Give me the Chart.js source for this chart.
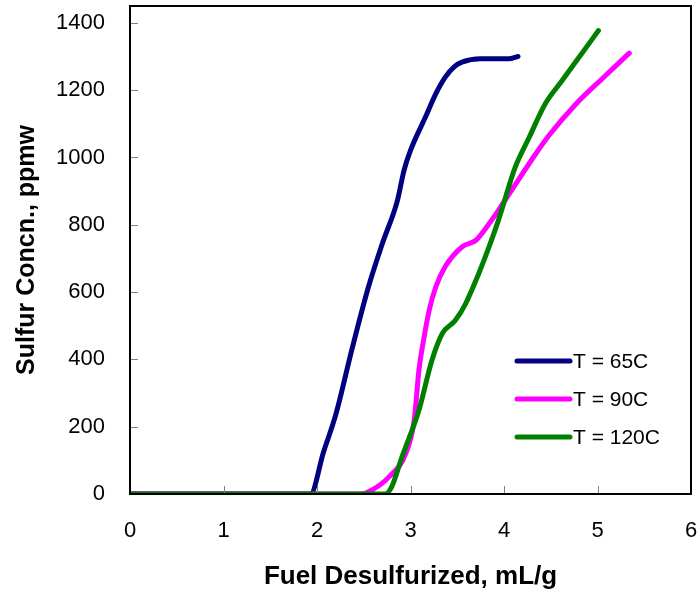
<!DOCTYPE html>
<html>
<head>
<meta charset="utf-8">
<script src="https://cdn.jsdelivr.net/npm/chart.js@4.4.1/dist/chart.umd.min.js"></script>
<style>
  body { margin: 0; background: #fff; }
  canvas { display: block; }
</style>
</head>
<body>
<canvas id="lineChart" width="700" height="592"></canvas>
<script>
// Series data
const labels = ['T = 65C', 'T = 90C', 'T = 120C'];

const x65 = [0, 1.93, 2.07, 2.2, 2.38, 2.55, 2.7, 2.86, 2.93, 3.0, 3.16, 3.27, 3.37, 3.47, 3.55, 3.75, 4.05, 4.15];
const y65 = [0, 0, 125, 235, 437, 615, 745, 872, 961, 1021, 1120, 1189, 1238, 1270, 1283, 1293, 1293, 1300];

const x90 = [0, 2.48, 2.59, 2.77, 2.95, 3.04, 3.09, 3.14, 3.2, 3.27, 3.37, 3.55, 3.7, 3.84, 3.94, 4.34, 4.48, 4.77, 5.05, 5.34];
const y90 = [0, 0, 12, 51, 121, 220, 368, 457, 546, 615, 675, 734, 754, 803, 843, 1011, 1065, 1159, 1234, 1310];

const x120 = [0, 2.73, 2.8, 2.91, 3.09, 3.23, 3.34, 3.48, 3.59, 3.73, 3.84, 3.94, 4.12, 4.27, 4.44, 4.62, 4.84, 5.01];
const y120 = [0, 0, 22, 111, 249, 398, 477, 516, 566, 655, 734, 813, 971, 1060, 1159, 1228, 1312, 1377];

const xTicks = [0, 1, 2, 3, 4, 5, 6];
const yTicks = [0, 200, 400, 600, 800, 1000, 1200, 1400];

const colors = ['#000080', '#FF00FF', '#008000'];
const font = "'Liberation Sans', Arial, sans-serif";

function toPoints(xs, ys) {
  return xs.map((x, i) => ({ x: x, y: ys[i] }));
}

// Frame, inner tick marks and the legend inside the plot
const framePlugin = {
  id: 'frame',
  afterDraw(chart) {
    const ctx = chart.ctx;
    const a = chart.chartArea;
    const xs = chart.scales.x;
    const ys = chart.scales.y;
    ctx.save();
    ctx.strokeStyle = '#808080';
    ctx.lineWidth = 1;
    xTicks.forEach((t) => {
      const px = Math.round(xs.getPixelForValue(t)) + 0.5;
      ctx.beginPath();
      ctx.moveTo(px, a.bottom);
      ctx.lineTo(px, a.bottom - 8);
      ctx.stroke();
    });
    yTicks.forEach((t) => {
      const py = Math.round(ys.getPixelForValue(t)) + 0.5;
      ctx.beginPath();
      ctx.moveTo(a.left, py);
      ctx.lineTo(a.left + 8, py);
      ctx.stroke();
    });
    ctx.strokeStyle = '#000';
    ctx.lineWidth = 2;
    ctx.strokeRect(a.left, a.top, a.right - a.left, a.bottom - a.top);

    // legend
    const lx = a.right - 174;
    let ly = a.top + 355;
    ctx.font = '21px ' + font;
    ctx.textBaseline = 'middle';
    ctx.textAlign = 'left';
    chart.data.datasets.forEach((ds) => {
      ctx.strokeStyle = ds.borderColor;
      ctx.lineWidth = 5;
      ctx.lineCap = 'round';
      ctx.beginPath();
      ctx.moveTo(lx, ly);
      ctx.lineTo(lx + 53, ly);
      ctx.stroke();
      ctx.fillStyle = '#000';
      ctx.fillText(ds.label, lx + 56, ly + 1);
      ly += 38;
    });
    ctx.restore();
  }
};

const ctx = document.getElementById('lineChart').getContext('2d');
const myChart = new Chart(ctx, {
  type: 'line',
  data: {
    datasets: [
      { label: labels[0], data: toPoints(x65, y65), borderColor: colors[0], order: 2 },
      { label: labels[1], data: toPoints(x90, y90), borderColor: colors[1], order: 1 },
      { label: labels[2], data: toPoints(x120, y120), borderColor: colors[2], order: 0 }
    ]
  },
  options: {
    responsive: false,
    animation: false,
    layout: { padding: { top: 6, right: 9, left: 0, bottom: 0 } },
    elements: {
      line: {
        borderWidth: 5,
        cubicInterpolationMode: 'monotone',
        borderCapStyle: 'round',
        borderJoinStyle: 'round',
        fill: false
      },
      point: { radius: 0 }
    },
    scales: {
      x: {
        type: 'linear',
        min: 0,
        max: 6,
        afterFit: (s) => {
          s.height = 98;
          s.paddingLeft = 0;
          s.paddingRight = 0;
        },
        afterBuildTicks: (s) => { s.ticks = xTicks.map((v) => ({ value: v })); },
        grid: { display: false, drawTicks: false },
        border: { display: false },
        ticks: { color: '#000', padding: 24, font: { family: font, size: 22 }, callback: (v) => String(v) },
        title: {
          display: true,
          text: 'Fuel Desulfurized, mL/g',
          color: '#000',
          padding: { top: 0, bottom: 0 },
          font: { family: font, size: 26, weight: 'bold' }
        }
      },
      y: {
        type: 'linear',
        min: 0,
        max: 1450,
        afterFit: (s) => {
          s.width = 130;
          s.paddingTop = 0;
          s.paddingBottom = 0;
        },
        afterBuildTicks: (s) => { s.ticks = yTicks.map((v) => ({ value: v })); },
        grid: { display: false, drawTicks: false },
        border: { display: false },
        ticks: { color: '#000', padding: 25, font: { family: font, size: 22 }, callback: (v) => String(v) },
        title: {
          display: true,
          text: 'Sulfur Concn., ppmw',
          color: '#000',
          padding: { top: 12, bottom: 0 },
          font: { family: font, size: 25, weight: 'bold' }
        }
      }
    },
    plugins: {
      legend: { display: false },
      tooltip: { enabled: false }
    }
  },
  plugins: [framePlugin]
});
</script>
</body>
</html>
